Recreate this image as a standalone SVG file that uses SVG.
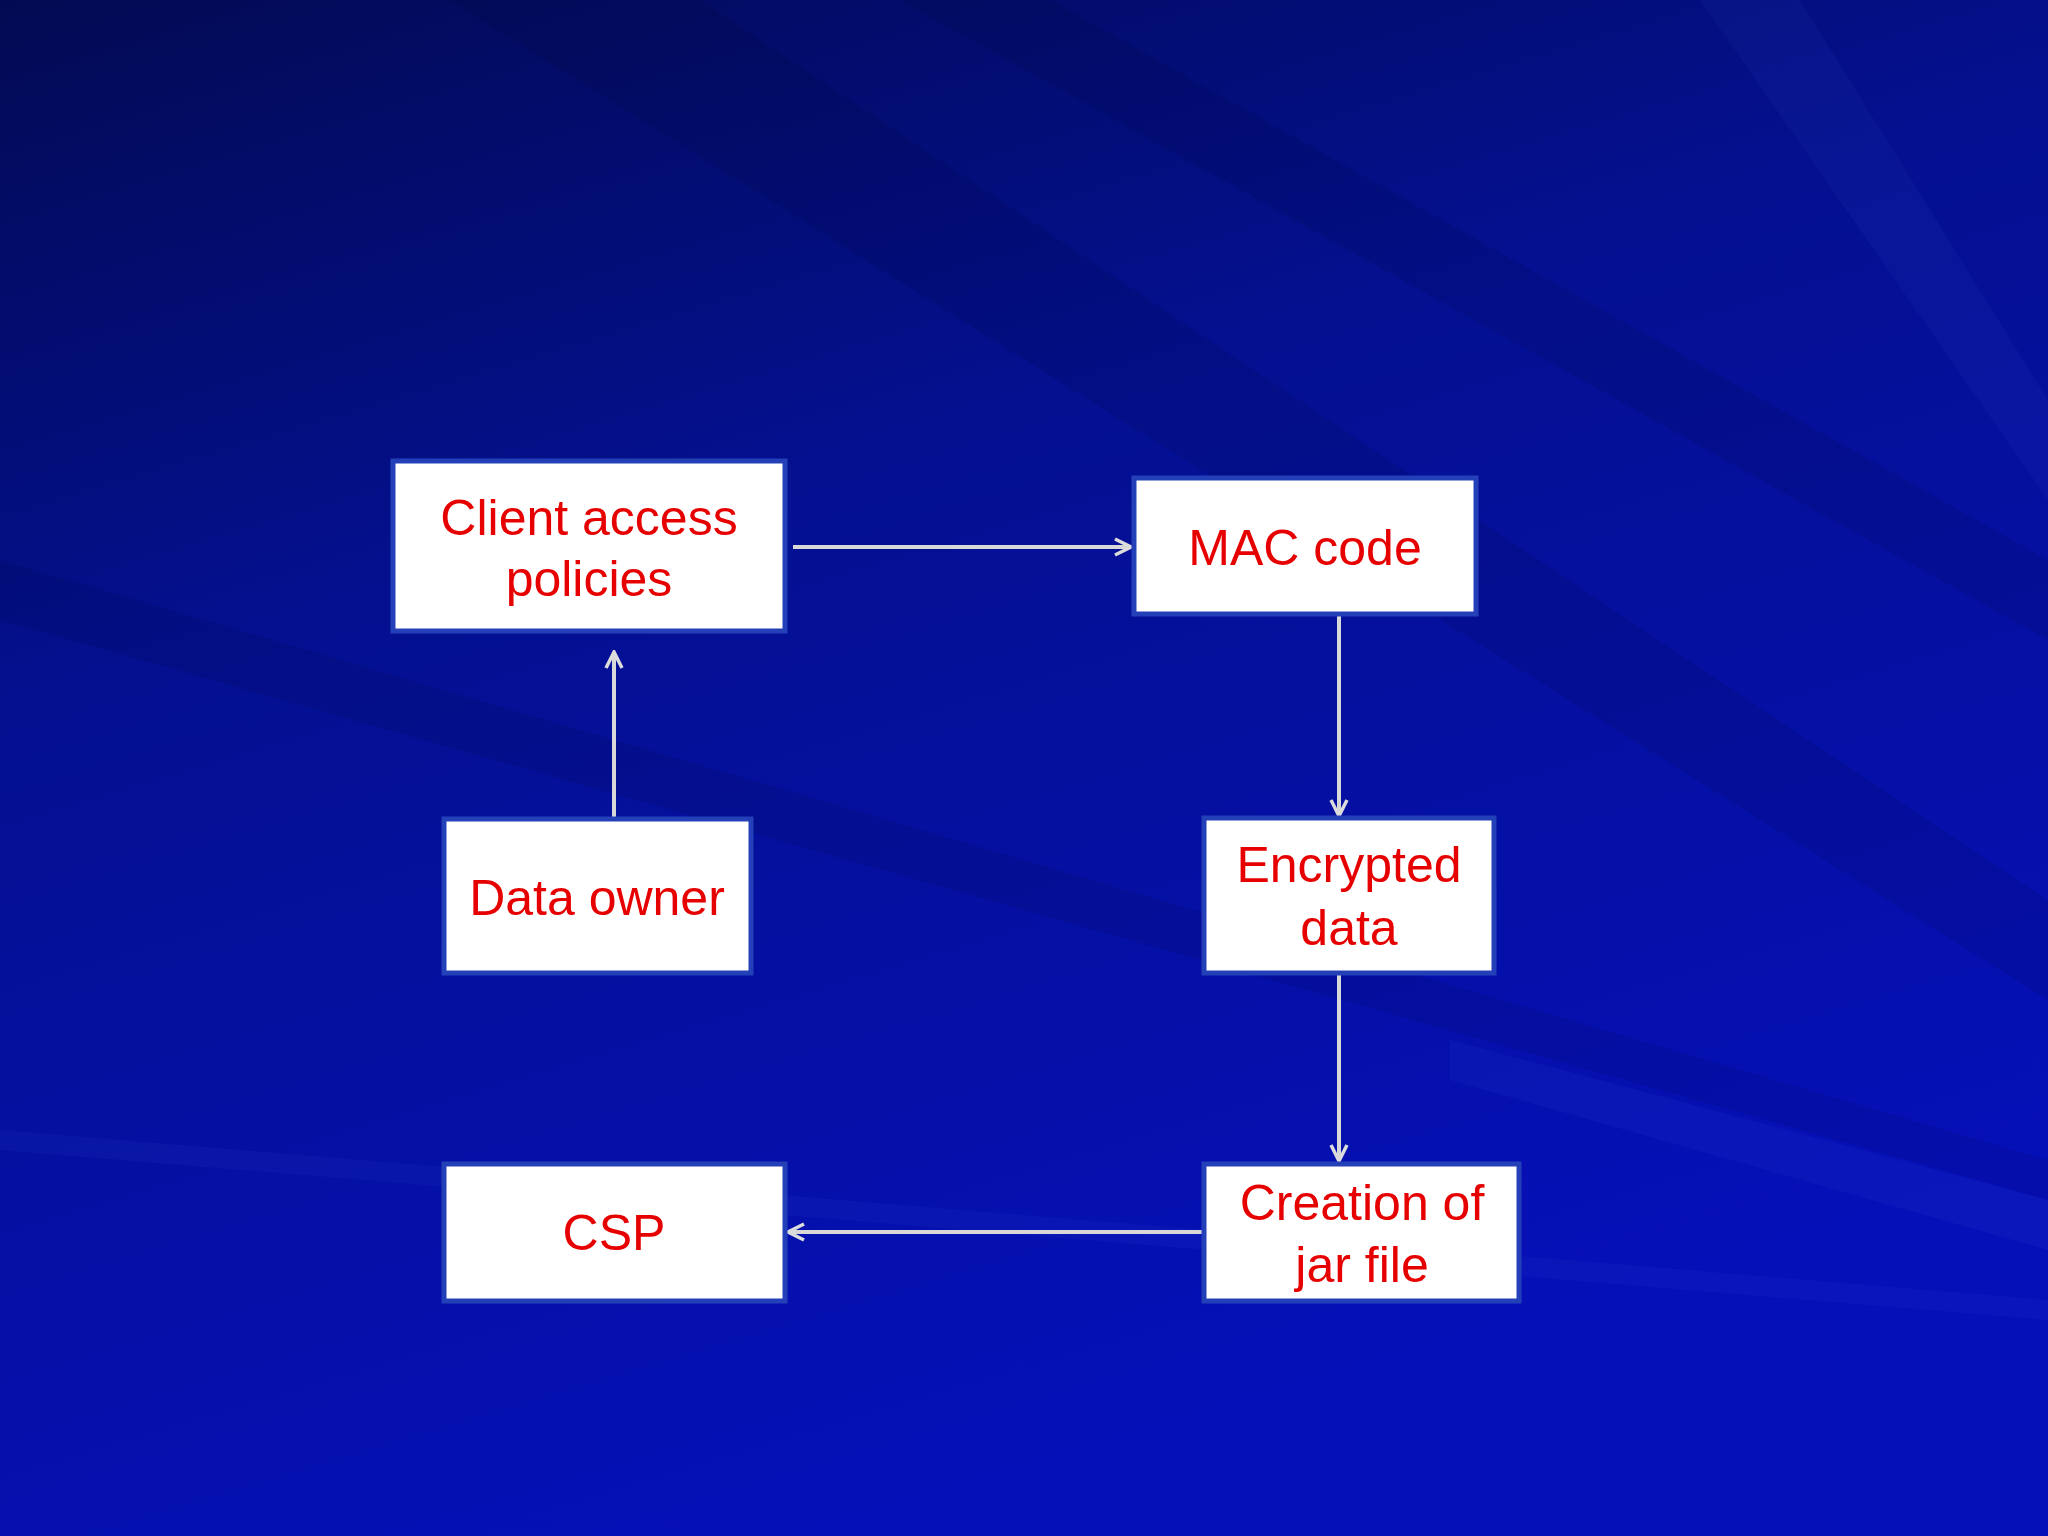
<svg xmlns="http://www.w3.org/2000/svg" width="2048" height="1536" viewBox="0 0 2048 1536">
<defs>
<linearGradient id="bg" x1="0" y1="0" x2="0.4" y2="1">
<stop offset="0" stop-color="#020a52"/>
<stop offset="0.4" stop-color="#041090"/>
<stop offset="1" stop-color="#0610b8"/>
</linearGradient>
<marker id="ah" viewBox="0 0 20 20" refX="18" refY="10" markerWidth="20" markerHeight="20" markerUnits="userSpaceOnUse" orient="auto">
<path d="M2,2 L18,10 L2,18" fill="none" stroke="#dcdcdc" stroke-width="3.5"/>
</marker>
<style>
.box{fill:#fff;stroke:#2440b8;stroke-width:5}
.t{font-family:"Liberation Sans",Arial,sans-serif;font-size:50px;fill:#e60000;text-anchor:middle}
.c{stroke:#d8d8d8;stroke-width:4;fill:none;marker-end:url(#ah)}
</style>
</defs>
<rect width="2048" height="1536" fill="url(#bg)"/>
<g opacity="0.07" fill="#000">
<polygon points="450,0 700,0 2048,900 2048,1000"/>
<polygon points="900,0 1050,0 2048,560 2048,640"/>
<polygon points="0,560 0,620 2048,1200 2048,1160"/>
</g>
<g opacity="0.05" fill="#6a8cff">
<polygon points="1450,1040 2048,1200 2048,1250 1450,1080"/>
<polygon points="1700,0 1800,0 2048,400 2048,500"/>
<polygon points="0,1130 2048,1300 2048,1320 0,1150"/>
</g>
<g id="connectors">
<line class="c" x1="793" y1="547" x2="1131" y2="547"/>
<line class="c" x1="1339" y1="614" x2="1339" y2="816"/>
<line class="c" x1="1339" y1="973" x2="1339" y2="1161"/>
<line class="c" x1="1203" y1="1232" x2="788" y2="1232"/>
<line class="c" x1="614" y1="819" x2="614" y2="652"/>
</g>
<g id="client"><rect class="box" x="393" y="461" width="392" height="170"/>
<text class="t" x="589" y="535">Client access</text><text class="t" x="589" y="596">policies</text></g>
<g id="mac"><rect class="box" x="1134" y="478" width="342" height="136"/>
<text class="t" x="1305" y="565">MAC code</text></g>
<g id="owner"><rect class="box" x="444" y="819" width="307" height="154"/>
<text class="t" x="597" y="915">Data owner</text></g>
<g id="enc"><rect class="box" x="1204" y="818" width="290" height="155"/>
<text class="t" x="1349" y="882">Encrypted</text><text class="t" x="1349" y="945">data</text></g>
<g id="csp"><rect class="box" x="444" y="1164" width="341" height="137"/>
<text class="t" x="614" y="1250">CSP</text></g>
<g id="jar"><rect class="box" x="1204" y="1164" width="315" height="137"/>
<text class="t" x="1362" y="1220">Creation of</text><text class="t" x="1362" y="1282">jar file</text></g>
</svg>
